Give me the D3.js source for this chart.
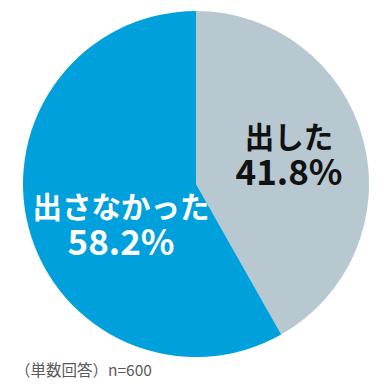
<!DOCTYPE html>
<html>
<head>
<meta charset="utf-8">
<script src="https://cdn.jsdelivr.net/npm/d3@7"></script>
<style>
  body { margin: 0; background: #fff; }
  svg { display: block; }
</style>
</head>
<body>
<svg id="chart"></svg>
<script>
// data
var categories = ["出した", "出さなかった"];
var values = [41.8, 58.2];
var colors = ["#B8C8D1", "#00A0DC"];
var textColors = ["#111111", "#ffffff"];
var note = "（単数回答）n=600";

var width = 392, height = 389;
var cx = 196, cy = 184, radius = 173;

var svg = d3.select("#chart")
  .attr("width", width)
  .attr("height", height);

var pie = d3.pie().sort(null).value(function (d) { return d; });
var arc = d3.arc().innerRadius(0).outerRadius(radius);

var g = svg.append("g")
  .attr("transform", "translate(" + cx + "," + cy + ")");

var arcs = pie(values);

g.selectAll("path")
  .data(arcs)
  .enter()
  .append("path")
  .attr("d", arc)
  .attr("fill", function (d, i) { return colors[i]; });

// label positions (offset from centre)
var labelPos = [[93, -30], [-75, 40]];

var labels = g.selectAll("g.lbl")
  .data(arcs)
  .enter()
  .append("g")
  .attr("class", "lbl")
  .attr("transform", function (d, i) {
    return "translate(" + labelPos[i][0] + "," + labelPos[i][1] + ")";
  })
  .style("font-family", "'Noto Sans CJK JP', 'Noto Sans', sans-serif")
  .style("font-weight", "bold")
  .attr("text-anchor", "middle")
  .attr("fill", function (d, i) { return textColors[i]; });

labels.append("text")
  .attr("y", -6)
  .style("font-size", "29.5px")
  .text(function (d, i) { return categories[i]; });

labels.append("text")
  .attr("y", 31)
  .style("font-size", "35px")
  .text(function (d) { return d.data.toFixed(1) + "%"; });

svg.append("text")
  .attr("x", 15)
  .attr("y", 376)
  .style("font-family", "'Noto Sans CJK JP', sans-serif")
  .style("font-size", "15.5px")
  .attr("fill", "#595959")
  .text(note);
</script>
</body>
</html>
